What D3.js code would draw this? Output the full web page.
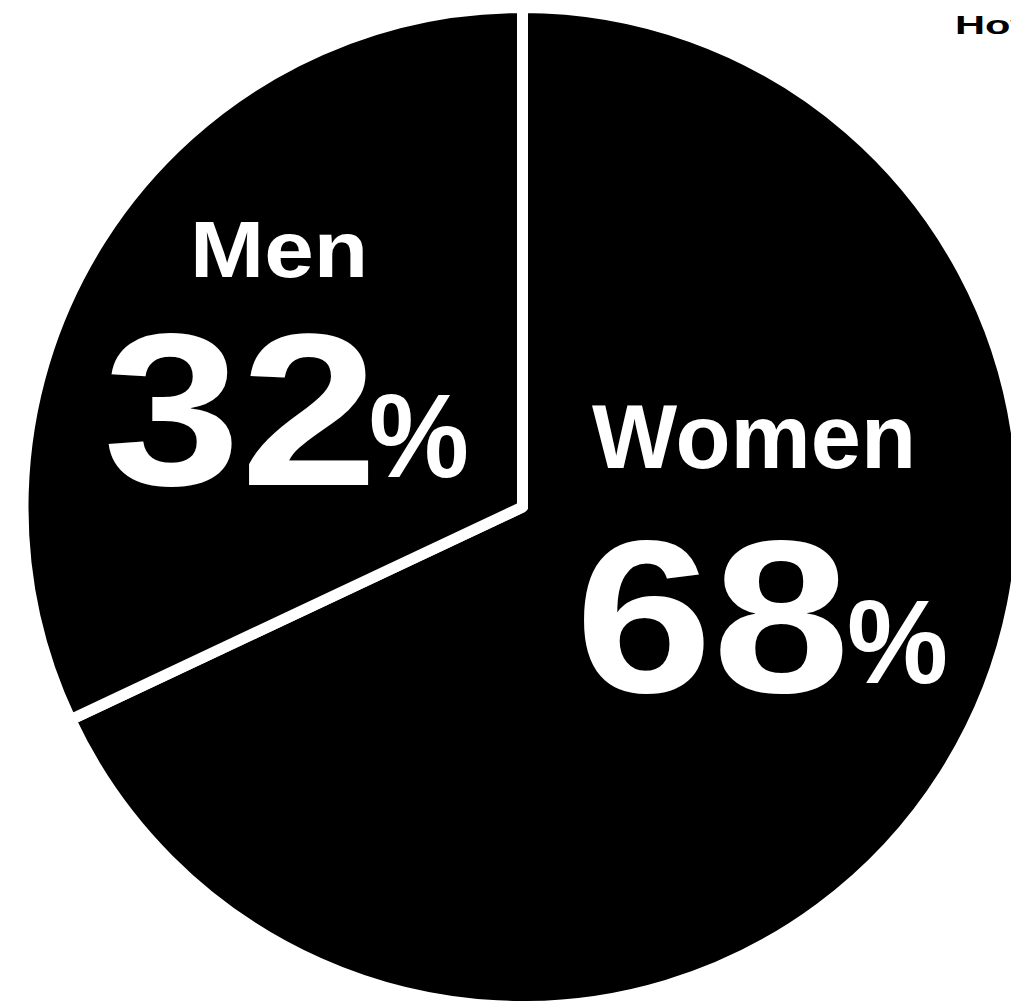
<!DOCTYPE html>
<html>
<head>
<meta charset="utf-8">
<script src="https://cdn.jsdelivr.net/npm/d3@7"></script>
<style>
  html, body { margin: 0; padding: 0; background: #fff; overflow: hidden; }
  svg { display: block; }
  text { font-family: "Liberation Sans", Arial, Helvetica, sans-serif; }
</style>
</head>
<body>
<svg id="chart" width="1011" height="1001"></svg>
<script>
// ---- data ----
const categories = ["Women", "Men"];
const values = [68, 32];
const titleText = "How";

// ---- layout (not data) ----
const W = 1011, H = 1001;
const cx = 522.5, cy = 507, visibleR = 494, sepWidth = 11;
const labelLayout = {
  Women: { name: {x: 592, y: 468, size: 90, len: 324},
           num:  {x: 575, y: 692, size: 218, len: 275},
           pct:  {x: 847, y: 683, size: 118, len: 101} },
  Men:   { name: {x: 190, y: 277, size: 79, len: 178},
           num:  {x: 103, y: 485, size: 218, len: 275},
           pct:  {x: 369, y: 477, size: 118, len: 100} }
};

const data = categories.map((c, i) => ({ category: c, value: values[i] }));

const svg = d3.select("#chart");
const g = svg.append("g").attr("transform", `translate(${cx},${cy})`);

const pie = d3.pie().value(d => d.value).sort(null);
const arc = d3.arc().innerRadius(0).outerRadius(visibleR + sepWidth / 2);

g.selectAll("path.slice")
  .data(pie(data))
  .join("path")
  .attr("class", "slice")
  .attr("d", arc)
  .attr("fill", "#000")
  .attr("stroke", "#fff")
  .attr("stroke-width", sepWidth)
  .attr("stroke-linejoin", "round");

// labels
const lbl = svg.append("g").attr("fill", "#fff").attr("font-weight", "bold");
data.forEach(d => {
  const L = labelLayout[d.category];
  lbl.append("text")
    .attr("x", L.name.x).attr("y", L.name.y)
    .attr("font-size", L.name.size)
    .attr("textLength", L.name.len).attr("lengthAdjust", "spacingAndGlyphs")
    .text(d.category);
  lbl.append("text")
    .attr("x", L.num.x).attr("y", L.num.y)
    .attr("font-size", L.num.size)
    .attr("textLength", L.num.len).attr("lengthAdjust", "spacingAndGlyphs")
    .text(String(d.value));
  lbl.append("text")
    .attr("x", L.pct.x).attr("y", L.pct.y)
    .attr("font-size", L.pct.size)
    .attr("textLength", L.pct.len).attr("lengthAdjust", "spacingAndGlyphs")
    .text("%");
});

// title (clipped at the right edge)
const t = svg.append("text")
  .attr("x", 955).attr("y", 34)
  .attr("font-size", 26).attr("font-weight", "bold")
  .attr("fill", "#000")
  .text(titleText);
const natural = t.node().getComputedTextLength();
t.attr("textLength", natural * 1.6).attr("lengthAdjust", "spacingAndGlyphs");
</script>
</body>
</html>
